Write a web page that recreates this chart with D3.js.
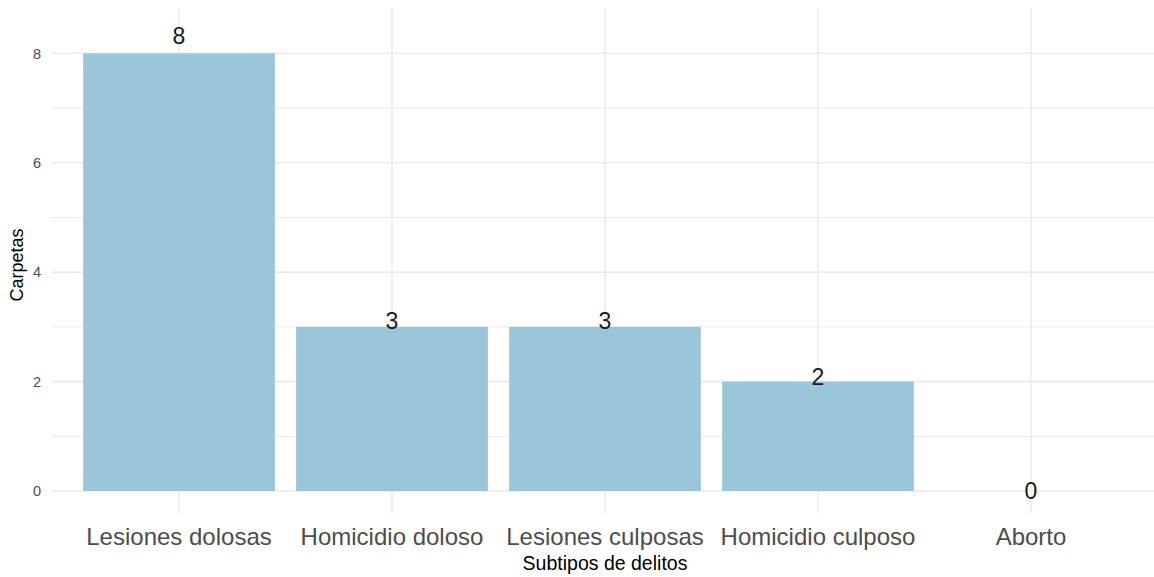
<!DOCTYPE html>
<html><head><meta charset="utf-8">
<script src="https://cdn.jsdelivr.net/npm/d3@7"></script>
<style>body{margin:0;background:#fff;} text{font-family:"Liberation Sans",Arial,sans-serif;}</style>
</head><body>
<svg id="chart" width="1154" height="577"></svg>
<script>
const categories = ["Lesiones dolosas","Homicidio doloso","Lesiones culposas","Homicidio culposo","Aborto"];
const values = [8,3,3,2,0];
const yTicks = [0,2,4,6,8];
const yMinor = [1,3,5,7];
const xTitle = "Subtipos de delitos";
const yTitle = "Carpetas";

const svg = d3.select("#chart");
const panel = {left:52, right:1159, top:8, bottom:513};
const y = d3.scaleLinear().domain([0,8]).range([491,53.3]);
const x = d3.scaleBand().domain(categories)
  .range([179 - 213*0.5, 1031 + 213*0.5]).paddingInner(0.1).paddingOuter(0.05);

const g = svg.append("g");
g.selectAll(".minor").data(yMinor).join("line")
  .attr("x1",panel.left).attr("x2",panel.right)
  .attr("y1",d=>y(d)).attr("y2",d=>y(d))
  .attr("stroke","#EBEBEB").attr("stroke-width",1);
g.selectAll(".major").data(yTicks).join("line")
  .attr("x1",panel.left).attr("x2",panel.right)
  .attr("y1",d=>y(d)).attr("y2",d=>y(d))
  .attr("stroke","#EBEBEB").attr("stroke-width",1.6);
g.selectAll(".vgrid").data(categories).join("line")
  .attr("x1",d=>x(d)+x.bandwidth()/2).attr("x2",d=>x(d)+x.bandwidth()/2)
  .attr("y1",panel.top).attr("y2",panel.bottom)
  .attr("stroke","#EBEBEB").attr("stroke-width",1.6);

g.selectAll(".bar").data(values).join("rect")
  .attr("x",(d,i)=>x(categories[i]))
  .attr("width",x.bandwidth())
  .attr("y",d=>y(d))
  .attr("height",d=>y(0)-y(d))
  .attr("fill","#9BC6D9");

g.selectAll(".lab").data(values).join("text")
  .attr("x",(d,i)=>x(categories[i])+x.bandwidth()/2)
  .attr("y",d=>y(d*1.04))
  .attr("dy","0.36em")
  .attr("text-anchor","middle")
  .attr("font-size",23).attr("fill","#1a1a1a")
  .text(d=>d);

g.selectAll(".ytl").data(yTicks).join("text")
  .attr("x",41).attr("y",d=>y(d)).attr("dy","0.36em")
  .attr("text-anchor","end").attr("font-size",14.5).attr("fill","#4D4D4D")
  .text(d=>d);

g.selectAll(".xtl").data(categories).join("text")
  .attr("x",d=>x(d)+x.bandwidth()/2).attr("y",545)
  .attr("text-anchor","middle").attr("font-size",24).attr("fill","#4D4D4D")
  .text(d=>d);

svg.append("text").attr("x",605).attr("y",570).attr("text-anchor","middle")
  .attr("font-size",19.5).attr("fill","#000").text(xTitle);
svg.append("text").attr("transform","translate(23,265) rotate(-90)").attr("text-anchor","middle")
  .attr("font-size",18).attr("fill","#000").text(yTitle);
</script>
</body></html>
